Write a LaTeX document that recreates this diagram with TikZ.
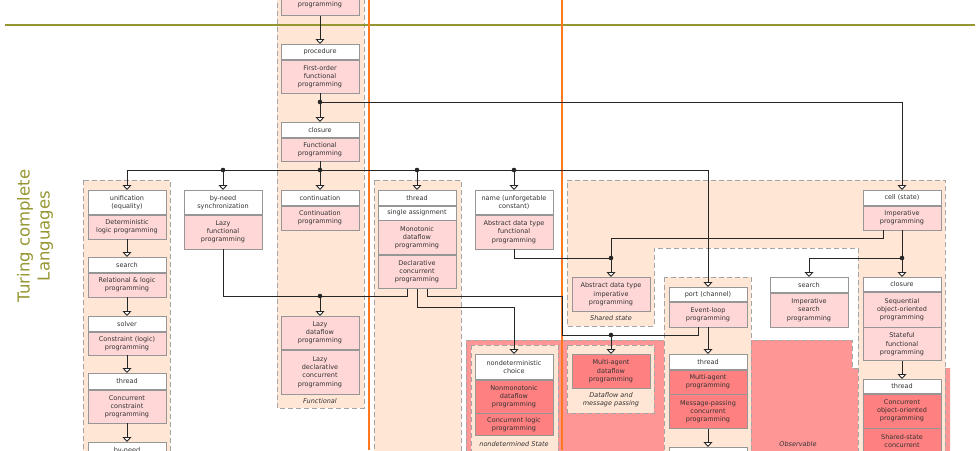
\documentclass[tikz,border=0pt]{standalone}
\usepackage{fontspec}
\setmainfont{DejaVu Sans}
\usetikzlibrary{arrows.meta,positioning}
\definecolor{grppeach}{RGB}{255,230,213}
\definecolor{bodypink}{RGB}{255,215,215}
\definecolor{bodyred}{RGB}{255,128,128}
\definecolor{obsred}{RGB}{255,150,150}
\definecolor{boxline}{RGB}{150,150,150}
\definecolor{grpline}{RGB}{165,165,165}
\definecolor{olive}{RGB}{150,150,50}
\definecolor{orangeln}{RGB}{255,120,30}
\definecolor{txt}{RGB}{50,50,50}
\newcommand{\boxfont}{\fontsize{6.5}{8.2}\selectfont}
\tikzset{
  pbox/.style={draw=boxline, line width=0.7pt, text=txt, font=\boxfont, align=center,
    text width=74pt, minimum width=78pt, inner xsep=2pt, inner ysep=1pt, anchor=north},
  hdr/.style={pbox, fill=white},
  bdy/.style={pbox, fill=bodypink},
  bdyd/.style={pbox, fill=bodyred},
  grp/.style={draw=grpline, dash pattern=on 5pt off 3pt, line width=0.8pt, fill=grppeach},
  conn/.style={draw=black!85, line width=0.9pt, -{Triangle[width=9pt,length=5pt,fill=white]}},
  wire/.style={draw=black!85, line width=0.9pt},
  lbl/.style={font=\boxfont\itshape, text=txt, align=center},
}
\begin{document}
\begin{tikzpicture}[x=1pt,y=-1pt]
  \useasboundingbox (0,0) rectangle (980,450);
  \clip (0,0) rectangle (980,450);
  \coordinate (dProc) at (320,102);
  \coordinate (dBus) at (320,170);
  \coordinate (dSync) at (223,170);
  \coordinate (dThr) at (417,170);
  \coordinate (dName) at (514,170);
  \coordinate (dLazy) at (320,296);
  \coordinate (kNond) at (514,307);
  \coordinate (kOrg) at (562,296);
  \coordinate (dMadf) at (611,335);
  \coordinate (dAdt) at (611,258);
  \coordinate (kImp) at (611,238);
  \coordinate (dCell) at (902,258);

  %Observable region
  \fill[obsred] (466,340) -- (852,340) -- (852,368) -- (950,368) -- (950,460) -- (466,460) -- cycle;
  \draw[grpline, dash pattern=on 5pt off 3pt, line width=0.8pt] (466,460) -- (466,340) -- (852,340) -- (852,368) -- (950,368);
  %State region
  \path[grp] (567,180) -- (945,180) -- (945,460) -- (858,460) -- (858,248) -- (654,248) -- (654,326) -- (567,326) -- cycle;
  %Groups
  \path[grp] (664,277) rectangle (751,460);
  \path[grp] (471,345) rectangle (558,460);
  \path[grp] (567,345) rectangle (654,413);
  \path[grp] (83,180) rectangle (170,460);
  \path[grp] (277,-5) rectangle (364,408);
  \path[grp] (374,180) rectangle (461,460);

  %Borders
  \draw[olive, line width=2pt] (5,25) -- (975,25);
  \draw[orangeln, line width=1.8pt] (369,0) -- (369,450);
  \draw[orangeln, line width=1.8pt] (562,0) -- (562,450);
  \node[rotate=90, text=olive, font=\fontsize{16.5}{20}\selectfont, align=center] (title) at (35,236) {Turing complete\\Languages};

  %Logic column
  \node[hdr, minimum height=24pt] (unifH) at (127,190) {unification\\(equality)};
  \node[bdy, minimum height=24pt, below=0pt of unifH] (unifB) {Deterministic\\logic programming};
  \node[hdr, minimum height=15pt] (srchH) at (127,257) {search};
  \node[bdy, minimum height=24pt, below=0pt of srchH] (srchB) {Relational \& logic\\programming};
  \node[hdr, minimum height=15pt] (solvH) at (127,316) {solver};
  \node[bdy, minimum height=23pt, below=0pt of solvH] (solvB) {Constraint (logic)\\programming};
  \node[hdr, minimum height=16pt] (thrcH) at (127,373) {thread};
  \node[bdy, minimum height=33pt, below=0pt of thrcH] (thrcB) {Concurrent\\constraint\\programming};
  \node[hdr, minimum height=24pt] (bneedH) at (127,442) {by-need\\~};
  %Lazy functional
  \node[hdr, minimum height=24pt] (bsyncH) at (223,190) {by-need\\synchronization};
  \node[bdy, minimum height=34pt, below=0pt of bsyncH] (lazyB) {Lazy\\functional\\programming};
  %Functional column
  \node[bdy, minimum height=21pt] (topB) at (320,-6) {programming};
  \node[hdr, minimum height=15pt] (procH) at (320,44) {procedure};
  \node[bdy, minimum height=33pt, below=0pt of procH] (procB) {First-order\\functional\\programming};
  \node[hdr, minimum height=15pt] (closH) at (320,122) {closure};
  \node[bdy, minimum height=23pt, below=0pt of closH] (closB) {Functional\\programming};
  \node[hdr, minimum height=15pt] (contH) at (320,190) {continuation};
  \node[bdy, minimum height=24pt, below=0pt of contH] (contB) {Continuation\\programming};
  \node[bdy, minimum height=33pt] (lzdfB) at (320,316) {Lazy\\dataflow\\programming};
  \node[bdy, minimum height=44pt, below=0pt of lzdfB] (lzdcB) {Lazy\\declarative\\concurrent\\programming};
  \node[lbl] (lblFun) at (320,401) {Functional};
  %Dataflow column
  \node[hdr, minimum height=15pt] (thrH) at (417,190) {thread};
  \node[hdr, minimum height=14pt, below=0pt of thrH] (sasgH) {single assignment};
  \node[bdy, minimum height=34pt, below=0pt of sasgH] (monoB) {Monotonic\\dataflow\\programming};
  \node[bdy, minimum height=33pt, below=0pt of monoB] (declB) {Declarative\\concurrent\\programming};
  %Name
  \node[hdr, minimum height=24pt] (nameH) at (514,190) {name (unforgetable\\constant)};
  \node[bdy, minimum height=34pt, below=0pt of nameH] (adtfB) {Abstract data type\\functional\\programming};
  \node[hdr, minimum height=25pt] (nondH) at (514,354) {nondeterministic\\choice};
  \node[bdyd, minimum height=33pt, below=0pt of nondH] (nmdfB) {Nonmonotonic\\dataflow\\programming};
  \node[bdyd, minimum height=22pt, below=0pt of nmdfB] (cclgB) {Concurrent logic\\programming};
  \node[lbl] (lblNds) at (514,444) {nondetermined State};
  %Shared state
  \node[bdy, minimum height=34pt] (adtiB) at (611,277) {Abstract data type\\imperative\\programming};
  \node[lbl] (lblShr) at (611,318) {Shared state};
  \node[bdyd, minimum height=34pt] (madfB) at (611,354) {Multi-agent\\dataflow\\programming};
  \node[lbl] (lblDmp) at (611,400) {Dataflow and\\message passing};
  %Port column
  \node[hdr, minimum height=14pt] (portH) at (708,287) {port (channel)};
  \node[bdy, minimum height=25pt, below=0pt of portH] (evlpB) {Event-loop\\programming};
  \node[hdr, minimum height=15pt] (thrpH) at (708,354) {thread};
  \node[bdyd, minimum height=24pt, below=0pt of thrpH] (maprB) {Multi-agent\\programming};
  \node[bdyd, minimum height=34pt, below=0pt of maprB] (mpcpB) {Message-passing\\concurrent\\programming};
  \node[hdr, minimum height=20pt] (nextH) at (708,447) {};
  %Search
  \node[hdr, minimum height=15pt] (isrH) at (809,277) {search};
  \node[bdy, minimum height=34pt, below=0pt of isrH] (isrB) {Imperative\\search\\programming};
  \node[lbl] (lblObs) at (798,444) {Observable};
  %Cell column
  \node[hdr, minimum height=15pt] (cellH) at (902,190) {cell (state)};
  \node[bdy, minimum height=24pt, below=0pt of cellH] (imprB) {Imperative\\programming};
  \node[hdr, minimum height=14pt] (closcH) at (902,277) {closure};
  \node[bdy, minimum height=35pt, below=0pt of closcH] (soopB) {Sequential\\object-oriented\\programming};
  \node[bdy, minimum height=33pt, below=0pt of soopB] (stfpB) {Stateful\\functional\\programming};
  \node[hdr, minimum height=14pt] (thrsH) at (902,379) {thread};
  \node[bdyd, minimum height=34pt, below=0pt of thrsH] (coopB) {Concurrent\\object-oriented\\programming};
  \node[bdyd, minimum height=33pt, below=0pt of coopB] (sscpB) {Shared-state\\concurrent\\~};

  %Connectors
  \draw[conn] (topB) -- (procH);
  \draw[conn] (procB) -- (closH);
  \draw[conn] (dProc) -| (cellH.north);
  \draw[wire] (closB.south) -- (dBus);
  \draw[wire] (dBus) -- (dName);
  \draw[conn] (dBus) -| (unifH.north);
  \draw[conn] (dSync) -- (bsyncH.north);
  \draw[conn] (dBus) -- (contH.north);
  \draw[conn] (dThr) -- (thrH.north);
  \draw[conn] (dName) -- (nameH.north);
  \draw[conn] (dName) -| (portH.north);
  \draw[conn] (unifB) -- (srchH);
  \draw[conn] (srchB) -- (solvH);
  \draw[conn] (solvB) -- (thrcH);
  \draw[conn] (thrcB) -- (bneedH);
  %Lazy dataflow
  \draw[wire] (lazyB.south) |- (dLazy);
  \draw[wire] ([xshift=-10pt]declB.south) |- (dLazy);
  \draw[conn] (dLazy) -- (lzdfB.north);
  \draw[conn] (declB.south) |- (kNond) -- (nondH.north);
  \draw[wire] ([xshift=10pt]declB.south) |- (kOrg) |- (dMadf);
  \draw[wire] ([xshift=-10pt]evlpB.south) |- (dMadf);
  \draw[conn] (dMadf) -- (madfB.north);
  %Shared state
  \draw[wire] (adtfB.south) |- (dAdt);
  \draw[wire] ([xshift=-19pt]imprB.south) |- (kImp) -- (dAdt);
  \draw[conn] (dAdt) -- (adtiB.north);
  \draw[wire] (imprB.south) -- (dCell);
  \draw[conn] (dCell) -- (closcH.north);
  \draw[conn] (dCell) -| (isrH.north);
  \draw[conn] (evlpB) -- (thrpH);
  \draw[conn] (mpcpB) -- (nextH);
  \draw[conn] (stfpB) -- (thrsH);
  %Dots
  \fill[black!85] (dProc) circle (2.3pt);
  \fill[black!85] (dBus) circle (2.3pt);
  \fill[black!85] (dSync) circle (2.3pt);
  \fill[black!85] (dThr) circle (2.3pt);
  \fill[black!85] (dName) circle (2.3pt);
  \fill[black!85] (dLazy) circle (2.3pt);
  \fill[black!85] (dMadf) circle (2.3pt);
  \fill[black!85] (dAdt) circle (2.3pt);
  \fill[black!85] (dCell) circle (2.3pt);
\end{tikzpicture}
\end{document}
